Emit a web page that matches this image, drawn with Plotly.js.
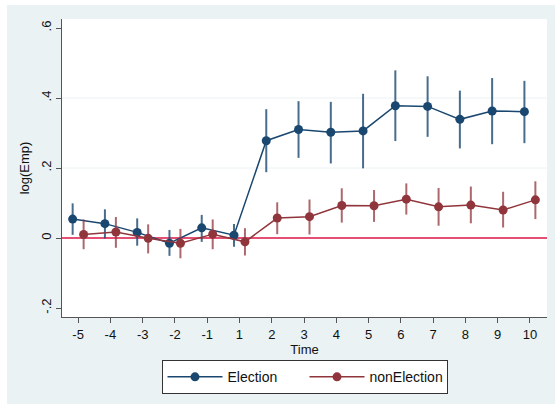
<!DOCTYPE html>
<html>
<head>
<meta charset="utf-8">
<script src="https://cdn.plot.ly/plotly-3.0.1.min.js"></script>
<style>
html,body{margin:0;padding:0;background:#ffffff;}
#chart{position:absolute;left:7px;top:5px;width:548px;height:399px;}
</style>
</head>
<body>
<div id="chart"></div>
<script>
// Event-time categories
const timeLabels = ["-5","-4","-3","-2","-1","1","2","3","4","5","6","7","8","9","10"];

// Election series: point estimates and 95% CI
const electionEst = [0.054, 0.041, 0.016, -0.015, 0.029, 0.008, 0.278, 0.310, 0.302, 0.306, 0.378, 0.376, 0.339, 0.363, 0.361];
const electionLo  = [0.009, -0.001, -0.022, -0.051, -0.011, -0.025, 0.188, 0.229, 0.213, 0.199, 0.277, 0.289, 0.256, 0.268, 0.271];
const electionHi  = [0.099, 0.082, 0.056, 0.023, 0.066, 0.040, 0.368, 0.391, 0.389, 0.412, 0.479, 0.462, 0.421, 0.457, 0.449];

// nonElection series
const nonElectionEst = [0.010, 0.017, -0.001, -0.015, 0.011, -0.011, 0.057, 0.061, 0.093, 0.092, 0.111, 0.089, 0.094, 0.080, 0.109];
const nonElectionLo  = [-0.032, -0.028, -0.044, -0.058, -0.032, -0.050, 0.011, 0.010, 0.044, 0.046, 0.067, 0.035, 0.042, 0.030, 0.054];
const nonElectionHi  = [0.053, 0.060, 0.039, 0.026, 0.053, 0.028, 0.102, 0.110, 0.142, 0.137, 0.156, 0.143, 0.147, 0.132, 0.162];

const yTickVals = [-0.2, 0, 0.2, 0.4, 0.6];
const yTickText = ["-.2", "0", ".2", ".4", ".6"];
const gridVals = [0.2, 0.4];

const idx = timeLabels.map((_, i) => i);
const shift = 0.17;

function mkTrace(name, est, lo, hi, color, barColor, dx) {
  return {
    type: 'scatter', mode: 'lines+markers', name: name,
    x: idx.map(i => i + dx), y: est,
    line: {color: color, width: 1.5},
    marker: {color: color, size: 9},
    error_y: {
      type: 'data', symmetric: false,
      array: hi.map((h, i) => h - est[i]),
      arrayminus: lo.map((l, i) => est[i] - l),
      color: barColor, thickness: 2, width: 0
    },
    cliponaxis: false
  };
}

const traces = [
  mkTrace('Election', electionEst, electionLo, electionHi, '#1a476f', 'rgba(26,71,111,0.8)', -shift),
  mkTrace('nonElection', nonElectionEst, nonElectionLo, nonElectionHi, '#90353b', 'rgba(144,53,59,0.75)', shift)
];

const shapes = gridVals.map(v => ({
  type: 'line', xref: 'paper', x0: 0, x1: 1, yref: 'y', y0: v, y1: v,
  line: {color: '#eaf2f3', width: 1}, layer: 'below'
}));
shapes.push({
  type: 'line', xref: 'paper', x0: 0, x1: 1, yref: 'y', y0: 0, y1: 0,
  line: {color: '#dc1545', width: 1.3}, layer: 'below'
});

const layout = {
  width: 548, height: 399,
  margin: {l: 55, r: 8, t: 14, b: 87},
  paper_bgcolor: '#eaf2f3',
  plot_bgcolor: '#ffffff',
  font: {family: 'Liberation Sans, Arial, sans-serif', size: 13, color: '#111111'},
  showlegend: true,
  xaxis: {
    range: [-0.5, 14.53],
    tickmode: 'array', tickvals: idx, ticktext: timeLabels,
    showgrid: false, zeroline: false,
    showline: true, linecolor: '#555555', linewidth: 1,
    ticks: 'outside', ticklen: 5, tickcolor: '#555555', tickwidth: 1,
    tickfont: {size: 13},
    title: {text: 'Time', font: {size: 13}, standoff: 2}
  },
  yaxis: {
    range: [-0.2257, 0.6257],
    tickmode: 'array', tickvals: yTickVals, ticktext: yTickText,
    tickangle: -90,
    showgrid: false, zeroline: false,
    showline: true, linecolor: '#555555', linewidth: 1,
    ticks: 'outside', ticklen: 5, tickcolor: '#555555', tickwidth: 1,
    tickfont: {size: 13},
    title: {text: 'log(Emp)', font: {size: 13}, standoff: 6}
  },
  legend: {
    orientation: 'h', x: 0.5, xanchor: 'center', y: -0.145, yanchor: 'top',
    bgcolor: '#ffffff', bordercolor: '#333333', borderwidth: 1,
    font: {size: 14}, itemwidth: 55, entrywidth: 72, entrywidthmode: 'pixels'
  },
  shapes: shapes
};

Plotly.newPlot('chart', traces, layout, {displayModeBar: false, staticPlot: true});
</script>
</body>
</html>
